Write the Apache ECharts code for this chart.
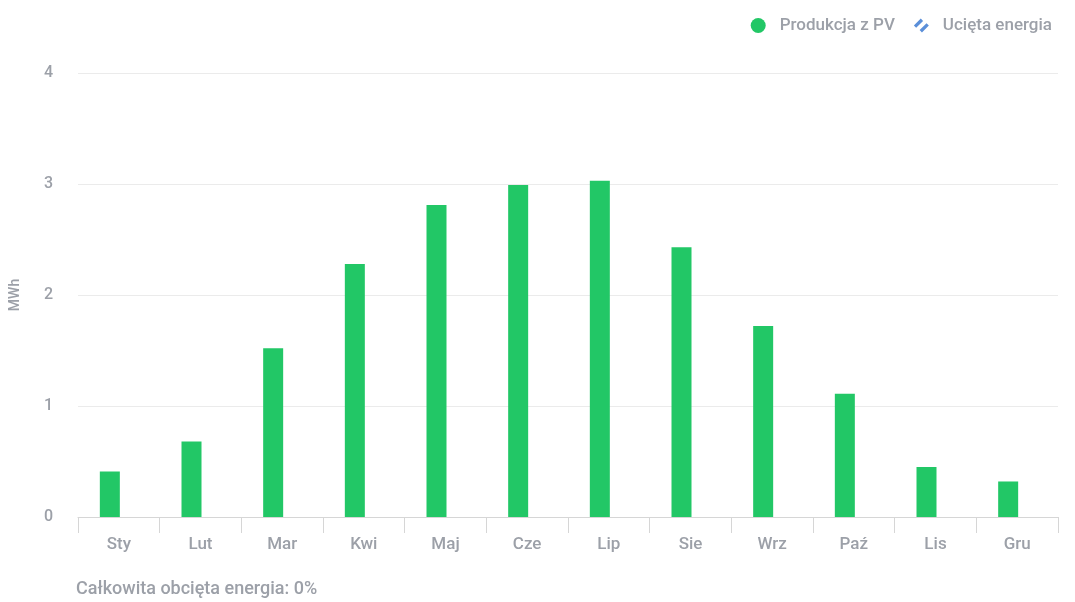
<!DOCTYPE html>
<html>
<head>
<meta charset="utf-8">
<script src="https://cdn.jsdelivr.net/npm/echarts@6/dist/echarts.min.js"></script>
<style>html,body{margin:0;padding:0;background:#fff;}#c{width:1075px;height:602px;}</style>
</head>
<body>
<div id="c"></div>
<script>
const categories = ['Sty','Lut','Mar','Kwi','Maj','Cze','Lip','Sie','Wrz','Paź','Lis','Gru'];
const production = [0.41, 0.68, 1.52, 2.28, 2.81, 2.99, 3.03, 2.43, 1.72, 1.11, 0.45, 0.32];
const curtailed = [0, 0, 0, 0, 0, 0, 0, 0, 0, 0, 0, 0];
const yTicks = [0, 1, 2, 3, 4];
const footerText = 'Całkowita obcięta energia: 0%';

const txt = '#9ca0a8';
const font = 'Roboto, "Noto Sans", sans-serif';
const fs = 17;
const chart = echarts.init(document.getElementById('c'));
chart.setOption({
  animation: false,
  textStyle: { fontFamily: font },
  legend: {
    top: 12, right: 18, itemGap: 19, itemWidth: 15, itemHeight: 15,
    textStyle: { color: txt, fontSize: fs, fontWeight: 500, fontFamily: font, padding: [0, 0, 0, 9] },
    data: [
      { name: 'Produkcja z PV', icon: 'circle' },
      { name: 'Ucięta energia', icon: 'path://M0,9 L6,3 L8,5 L2,11 Z M5,13 L11,7 L13,9 L7,15 Z', itemStyle: { color: '#5b8fd9' } }
    ]
  },
  grid: { left: 75, right: 17, top: 73, bottom: 85 },
  xAxis: {
    type: 'category', data: categories,
    axisLine: { lineStyle: { color: '#d6d6d6' } },
    axisTick: { show: true, length: 16, lineStyle: { color: '#d6d6d6' } },
    axisLabel: { color: txt, fontSize: fs, fontWeight: 500, margin: 19 }
  },
  yAxis: {
    type: 'value', min: yTicks[0], max: yTicks[yTicks.length - 1], interval: 1,
    name: 'MWh', nameLocation: 'middle', nameGap: 56, nameRotate: 90,
    nameTextStyle: { color: txt, fontSize: 14, fontWeight: 500 },
    axisLabel: { color: txt, fontSize: 16, fontWeight: 500, margin: 25 },
    splitLine: { lineStyle: { color: '#ebebeb' } },
    axisLine: { show: false }, axisTick: { show: false }
  },
  series: [
    { name: 'Produkcja z PV', type: 'bar', data: production, barWidth: 20, barGap: '-10%',
      itemStyle: { color: '#22c766' } },
    { name: 'Ucięta energia', type: 'bar', data: curtailed, barWidth: 20,
      itemStyle: { color: '#5b8fd9' } }
  ],
  graphic: [{
    type: 'text', left: 76, top: 580,
    style: { text: footerText, fill: txt, fontSize: 18, fontWeight: 500, fontFamily: font }
  }]
});
</script>
</body>
</html>
